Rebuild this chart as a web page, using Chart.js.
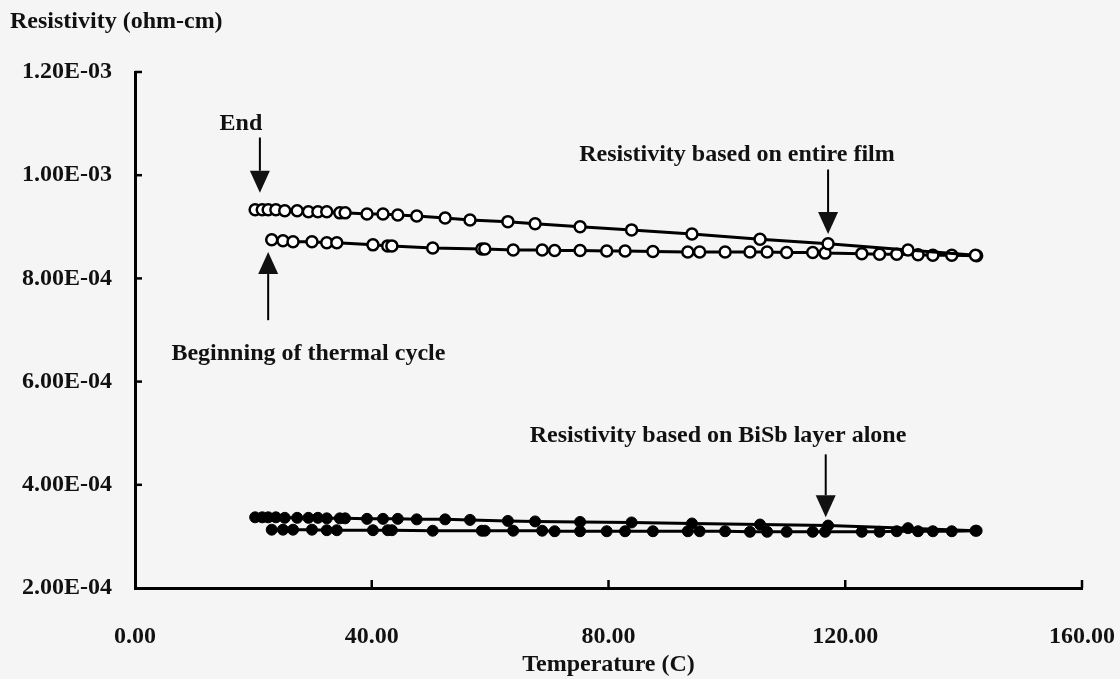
<!DOCTYPE html>
<html>
<head>
<meta charset="utf-8">
<script src="https://cdn.jsdelivr.net/npm/chart.js@4/dist/chart.umd.min.js"></script>
<style>
  html, body { margin: 0; padding: 0; background: #f5f5f5; }
  #c { display: block; }
</style>
</head>
<body>
<canvas id="c" width="1120" height="679"></canvas>
<script>
// ---- Data ----
// Cooling branch (upper curves, ends at "End")
const tempCooling = [20.3, 21.5, 22.5, 23.8, 25.3, 27.4, 29.3, 30.9, 32.4, 34.6, 35.5, 39.2, 41.9, 44.4, 47.6, 52.4, 56.6, 63.0, 67.6, 75.2, 83.9, 94.1, 105.6, 117.1, 130.6, 142.0];
const filmCooling = [9.33e-4, 9.33e-4, 9.33e-4, 9.33e-4, 9.31e-4, 9.31e-4, 9.29e-4, 9.29e-4, 9.29e-4, 9.27e-4, 9.27e-4, 9.25e-4, 9.25e-4, 9.23e-4, 9.21e-4, 9.17e-4, 9.13e-4, 9.10e-4, 9.06e-4, 9.00e-4, 8.94e-4, 8.86e-4, 8.76e-4, 8.67e-4, 8.55e-4, 8.45e-4];
const layerCooling = [3.37e-4, 3.37e-4, 3.37e-4, 3.37e-4, 3.36e-4, 3.36e-4, 3.36e-4, 3.36e-4, 3.35e-4, 3.35e-4, 3.35e-4, 3.34e-4, 3.34e-4, 3.34e-4, 3.33e-4, 3.33e-4, 3.32e-4, 3.30e-4, 3.29e-4, 3.28e-4, 3.27e-4, 3.25e-4, 3.23e-4, 3.21e-4, 3.16e-4, 3.11e-4];
// Heating branch (lower curves, starts at "Beginning of thermal cycle")
const tempHeating = [23.1, 25.0, 26.7, 29.9, 32.4, 34.1, 40.2, 42.7, 43.4, 50.3, 58.6, 59.1, 63.9, 68.8, 70.9, 75.2, 79.7, 82.8, 87.5, 93.4, 95.4, 99.7, 103.9, 106.8, 110.1, 114.5, 116.6, 122.8, 125.8, 128.7, 132.3, 134.8, 138.0, 142.2];
const filmHeating = [8.75e-4, 8.73e-4, 8.71e-4, 8.71e-4, 8.69e-4, 8.69e-4, 8.65e-4, 8.63e-4, 8.63e-4, 8.59e-4, 8.57e-4, 8.57e-4, 8.55e-4, 8.55e-4, 8.54e-4, 8.54e-4, 8.53e-4, 8.53e-4, 8.52e-4, 8.51e-4, 8.51e-4, 8.51e-4, 8.51e-4, 8.51e-4, 8.50e-4, 8.50e-4, 8.49e-4, 8.48e-4, 8.47e-4, 8.47e-4, 8.46e-4, 8.45e-4, 8.45e-4, 8.44e-4];
const layerHeating = [3.13e-4, 3.13e-4, 3.13e-4, 3.13e-4, 3.12e-4, 3.12e-4, 3.12e-4, 3.12e-4, 3.12e-4, 3.11e-4, 3.11e-4, 3.11e-4, 3.11e-4, 3.11e-4, 3.10e-4, 3.10e-4, 3.10e-4, 3.10e-4, 3.10e-4, 3.10e-4, 3.10e-4, 3.10e-4, 3.09e-4, 3.09e-4, 3.09e-4, 3.09e-4, 3.09e-4, 3.09e-4, 3.09e-4, 3.10e-4, 3.10e-4, 3.10e-4, 3.10e-4, 3.11e-4];

// Axes
const xTickValues = [0, 40, 80, 120, 160];
const xTickLabels = ['0.00', '40.00', '80.00', '120.00', '160.00'];
const yTickValues = [2e-4, 4e-4, 6e-4, 8e-4, 1e-3, 1.2e-3];
const yTickLabels = ['2.00E-04', '4.00E-04', '6.00E-04', '8.00E-04', '1.00E-03', '1.20E-03'];
const xTitle = 'Temperature (C)';
const yTitle = 'Resistivity (ohm-cm)';

// Annotations (anchored in data units)
const annotations = [
  { text: 'End', textX: 17.9, textY: 1.099e-3, arrowX: 21.1, from: 1.073e-3, to: 9.66e-4 },
  { text: 'Beginning of thermal cycle', textX: 29.3, textY: 6.54e-4, arrowX: 22.5, from: 7.19e-4, to: 8.51e-4 },
  { text: 'Resistivity based on entire film', textX: 101.7, textY: 1.040e-3, arrowX: 117.1, from: 1.011e-3, to: 8.86e-4 },
  { text: 'Resistivity based on BiSb layer alone', textX: 98.5, textY: 4.94e-4, arrowX: 116.7, from: 4.59e-4, to: 3.37e-4 }
];

const FONT = '"Liberation Serif", "DejaVu Serif", serif';
const toPts = (xs, ys) => xs.map((x, i) => ({ x: x, y: ys[i] }));

const openStyle = { borderColor: '#000', borderWidth: 3, pointRadius: 5.5, pointBorderWidth: 2.5, pointBackgroundColor: '#fff', pointBorderColor: '#000', pointHoverRadius: 5.5 };
const filledStyle = { borderColor: '#000', borderWidth: 3, pointRadius: 5.5, pointBorderWidth: 1, pointBackgroundColor: '#000', pointBorderColor: '#000', pointHoverRadius: 5.5 };

const decoPlugin = {
  id: 'deco',
  afterDraw(chart) {
    const ctx = chart.ctx;
    const xs = chart.scales.x, ys = chart.scales.y;
    const a = chart.chartArea;
    ctx.save();
    // inward ticks
    ctx.strokeStyle = '#000';
    ctx.lineWidth = 2.5;
    yTickValues.forEach(v => {
      const py = ys.getPixelForValue(v);
      if (Math.abs(py - a.bottom) < 1) return;
      ctx.beginPath(); ctx.moveTo(a.left, py); ctx.lineTo(a.left + 7, py); ctx.stroke();
    });
    xTickValues.forEach(v => {
      const px = xs.getPixelForValue(v);
      if (Math.abs(px - a.left) < 1) return;
      ctx.beginPath(); ctx.moveTo(px, a.bottom); ctx.lineTo(px, a.bottom - 8); ctx.stroke();
    });
    // y title
    ctx.fillStyle = '#111';
    ctx.font = 'bold 24px ' + FONT;
    ctx.textAlign = 'left';
    ctx.textBaseline = 'middle';
    ctx.fillText(yTitle, 10, 22);
    // annotations
    annotations.forEach(an => {
      ctx.textAlign = 'center';
      ctx.fillText(an.text, xs.getPixelForValue(an.textX), ys.getPixelForValue(an.textY));
      const px = xs.getPixelForValue(an.arrowX);
      const y0 = ys.getPixelForValue(an.from);
      const y1 = ys.getPixelForValue(an.to);
      const dir = y1 > y0 ? 1 : -1;
      const headLen = 22, headHalf = 10;
      ctx.lineWidth = 2;
      ctx.beginPath(); ctx.moveTo(px, y0); ctx.lineTo(px, y1 - dir * headLen); ctx.stroke();
      ctx.beginPath();
      ctx.moveTo(px, y1);
      ctx.lineTo(px - headHalf, y1 - dir * headLen);
      ctx.lineTo(px + headHalf, y1 - dir * headLen);
      ctx.closePath();
      ctx.fill();
    });
    ctx.restore();
  }
};

new Chart(document.getElementById('c'), {
  type: 'line',
  data: {
    datasets: [
      Object.assign({ label: 'Film (cooling)', data: toPts(tempCooling, filmCooling) }, openStyle),
      Object.assign({ label: 'Film (heating)', data: toPts(tempHeating, filmHeating) }, openStyle),
      Object.assign({ label: 'BiSb (cooling)', data: toPts(tempCooling, layerCooling) }, filledStyle),
      Object.assign({ label: 'BiSb (heating)', data: toPts(tempHeating, layerHeating) }, filledStyle)
    ]
  },
  options: {
    responsive: false,
    animation: false,
    devicePixelRatio: 1,
    layout: { padding: { top: 72, right: 38, left: 0, bottom: 0 } },
    plugins: { legend: { display: false }, tooltip: { enabled: false } },
    scales: {
      x: {
        type: 'linear', min: 0, max: 160,
        afterBuildTicks: s => { s.ticks = xTickValues.map(v => ({ value: v })); },
        afterFit: s => { s.height = 91; s.paddingLeft = 0; s.paddingRight = 0; },
        grid: { display: false, drawTicks: false },
        border: { display: true, color: '#000', width: 3 },
        ticks: {
          padding: 34, color: '#111',
          font: { family: FONT, size: 24, weight: 'bold' },
          maxRotation: 0, autoSkip: false,
          callback: (v, i) => xTickLabels[i]
        },
        title: { display: true, text: xTitle, color: '#111', padding: { top: 6, bottom: 0 }, font: { family: FONT, size: 24, weight: 'bold' } }
      },
      y: {
        type: 'linear', min: 2e-4, max: 1.2e-3,
        afterBuildTicks: s => { s.ticks = yTickValues.map(v => ({ value: v })); },
        afterFit: s => { s.width = 135; s.paddingTop = 0; s.paddingBottom = 0; },
        grid: { display: false, drawTicks: false },
        border: { display: true, color: '#000', width: 3 },
        ticks: {
          padding: 23, color: '#111',
          font: { family: FONT, size: 24, weight: 'bold' },
          autoSkip: false,
          callback: (v, i) => yTickLabels[i]
        }
      }
    }
  },
  plugins: [decoPlugin]
});
</script>
</body>
</html>
